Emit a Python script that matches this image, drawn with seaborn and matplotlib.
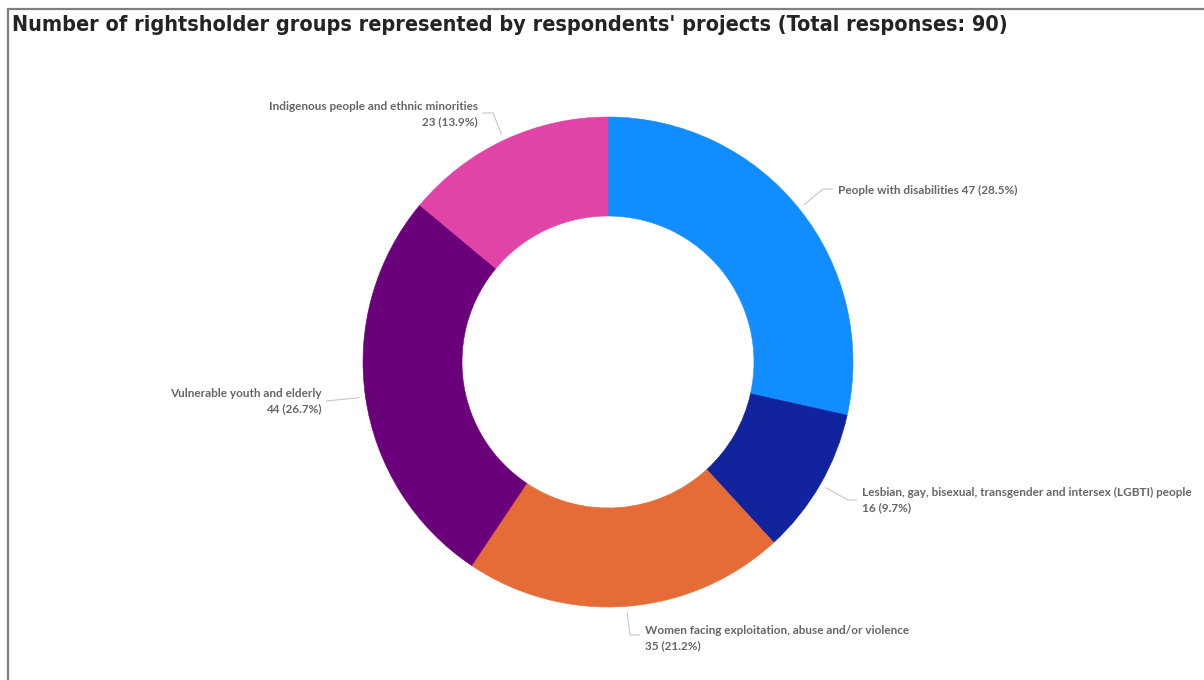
import matplotlib
matplotlib.use("Agg")
import matplotlib.pyplot as plt
import seaborn as sns
import numpy as np
from matplotlib.lines import Line2D

# Rightsholder groups, clockwise from 12 o'clock
groups = [
    "People with disabilities",
    "Lesbian, gay, bisexual, transgender and intersex (LGBTI) people",
    "Women facing exploitation, abuse and/or violence",
    "Vulnerable youth and elderly",
    "Indigenous people and ethnic minorities",
]
counts = [47, 16, 35, 44, 23]
colors = ["#118DFF", "#12239E", "#E66C37", "#6B007B", "#E044A7"]
title = "Number of rightsholder groups represented by respondents' projects (Total responses: 90)"

sns.set_theme(style="white")
plt.rcParams["font.family"] = ["Lato", "DejaVu Sans"]

W, H = 1204, 680
fig = plt.figure(figsize=(W / 100, H / 100), dpi=100)
fig.patch.set_facecolor("white")
ax = fig.add_axes([0, 0, 1, 1])

# pixel-style helpers (y measured from the top)
def py(y):
    return H - y

cx, cy = 608, 362
r_out, ring = 245, 99

ax.pie(counts, colors=colors, startangle=90, counterclock=False,
       radius=r_out, center=(cx, py(cy)),
       wedgeprops=dict(width=ring, linewidth=0.4, antialiased=True))
for w, c in zip(ax.patches, colors):
    w.set_edgecolor(c)
ax.set_xlim(0, W)
ax.set_ylim(0, H)
ax.set_aspect("auto")
ax.axis("off")

total = sum(counts)
cum = np.cumsum([0] + counts)
mid_deg = [(cum[i] + counts[i] / 2) / total * 360 for i in range(len(counts))]

# label layout: (elbow x, elbow y, line end x, text x, text y(center of block), ha, single_line)
layout = [
    (823, 189, 833, 838, 190, "left", True),
    (848, 500, 857, 862, 500, "left", False),
    (630, 635, 640, 645, 638, "left", False),
    (None, None, 326, 322, 401, "right", False),
    (493, 113, 482, 478, 114, "right", False),
]

label_color = "#666666"
line_color = "#C8C6C4"
fs = 8.0
labels = []
for i, (g, c) in enumerate(zip(groups, counts)):
    pct = c / total * 100
    a = np.deg2rad(mid_deg[i])
    sx = cx + 251 * np.sin(a)
    sy = cy - 251 * np.cos(a)
    ex, ey, lx, tx, ty, ha, single = layout[i]
    if ex is None:
        xs, ys = [sx, lx], [sy, ty]
    else:
        xs, ys = [sx, ex, lx], [sy, ey, ey]
    ax.add_line(Line2D(xs, [py(v) for v in ys], color=line_color, lw=0.8,
                       solid_capstyle="butt"))
    if single:
        txt = f"{g} {c} ({pct:.1f}%)"
    else:
        txt = f"{g}\n{c} ({pct:.1f}%)"
    labels.append(ax.text(tx, py(ty), txt, ha=ha, va="center", fontsize=fs,
                          fontweight="bold", color=label_color,
                          linespacing=1.55, multialignment=ha))

# title
t = fig.text(12 / W, 1 - 25 / H, title, ha="left", va="center",
             fontsize=16, fontweight="bold", color="#252423",
             family=["DejaVu Sans"], fontstretch="condensed")

# size the text so the single-line label and the title span their widths
fig.canvas.draw()
lab_w = labels[0].get_window_extent().width
for lab in labels:
    lab.set_fontsize(fs * 181 / lab_w)
t.set_fontsize(16 * 998 / t.get_window_extent().width)

# frame lines along the top and left edges
fig.add_artist(Line2D([7.5 / W, 1], [1 - 8.5 / H, 1 - 8.5 / H],
                      transform=fig.transFigure, color="#7F7F7F", lw=1.6))
fig.add_artist(Line2D([7.5 / W, 7.5 / W], [0, 1 - 8.5 / H],
                      transform=fig.transFigure, color="#7F7F7F", lw=1.6))

fig.savefig("out.png", dpi=100, facecolor="white")
